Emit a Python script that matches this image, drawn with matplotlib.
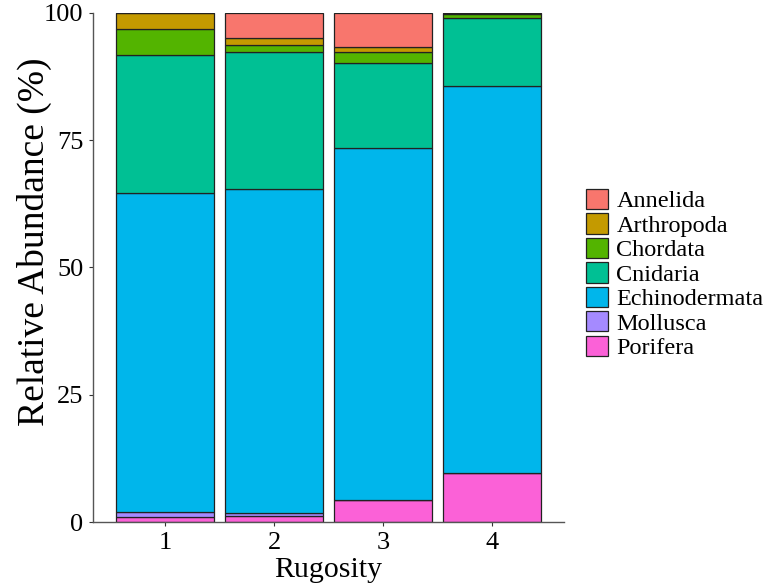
import numpy as np
import matplotlib.pyplot as plt

# values (% of each rugosity class)
rugosity = [1, 2, 3, 4]
porifera = [0.9, 1.2, 4.3, 9.6]
mollusca = [1.1, 0.5, 0.05, 0.0]
echinodermata = [62.6, 63.7, 69.2, 76.1]
cnidaria = [27.1, 26.9, 16.7, 13.3]
chordata = [5.2, 1.5, 2.1, 0.7]
arthropoda = [3.1, 1.3, 1.0, 0.3]
annelida = [0.0, 4.9, 6.7, 0.0]

phyla = ['Annelida', 'Arthropoda', 'Chordata', 'Cnidaria',
         'Echinodermata', 'Mollusca', 'Porifera']
values = [annelida, arthropoda, chordata, cnidaria,
          echinodermata, mollusca, porifera]
colors = ['#F8766D', '#C49A00', '#53B400', '#00C094',
          '#00B6EB', '#A58AFF', '#FB61D7']

plt.rcParams['font.family'] = ['Liberation Serif', 'DejaVu Serif']

fig = plt.figure(figsize=(7.74, 5.87), dpi=100)
ax = fig.add_axes([0.1202, 0.1107, 0.6085, 0.8672])

# stack from the bottom (Porifera) up to Annelida
bottom = np.zeros(len(rugosity))
handles = {}
for name, vals, col in reversed(list(zip(phyla, values, colors))):
    vals = np.array(vals)
    b = ax.bar(rugosity, vals, bottom=bottom, width=0.9, color=col,
               edgecolor='#222222', linewidth=0.9)
    handles[name] = b
    bottom += vals

ax.set_xlim(0.34, 4.66)
ax.set_ylim(0, 100)
ax.set_xticks(rugosity)
ax.set_yticks([0, 25, 50, 75, 100])
ax.tick_params(labelsize=19, colors='#333333', length=3, width=0.8,
               labelcolor='black', pad=4)
for s in ['top', 'right']:
    ax.spines[s].set_visible(False)
for s in ['left', 'bottom']:
    ax.spines[s].set_color('#555555')
    ax.spines[s].set_linewidth(1.0)

ax.set_xlabel('Rugosity', fontsize=21.5, labelpad=2)
ax.set_ylabel('Relative Abundance (%)', fontsize=27)
ax.yaxis.set_label_coords(-0.088, 0.55)

leg = fig.legend([handles[p] for p in phyla], phyla,
                 loc='upper left', bbox_to_anchor=(0.757, 0.678),
                 frameon=False, fontsize=17.5, handlelength=0.9,
                 handleheight=0.9, handletextpad=0.35, labelspacing=0.04,
                 borderaxespad=0, borderpad=0)

fig.savefig('out.png', dpi=100)
